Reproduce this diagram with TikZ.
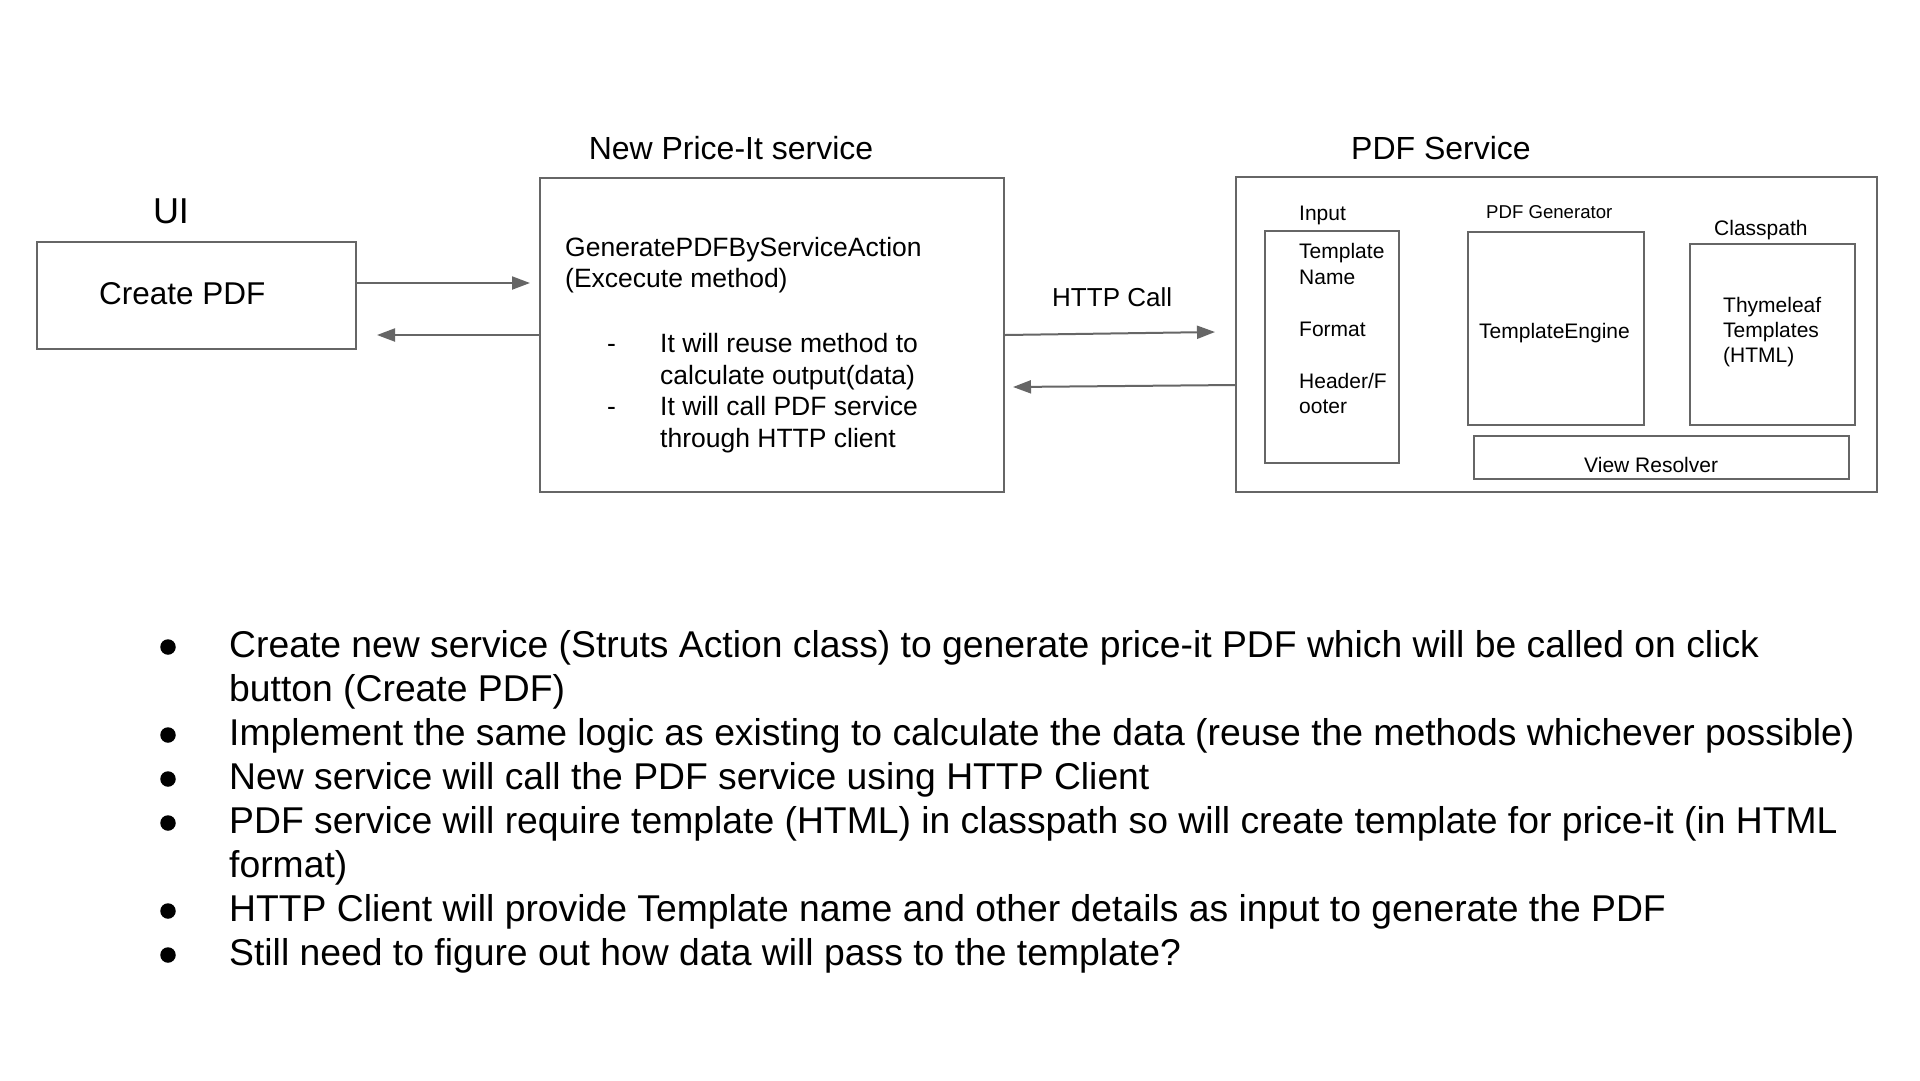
\documentclass[tikz,border=0pt]{standalone}
\usepackage{fontspec}
\setmainfont{Liberation Sans}
\usetikzlibrary{arrows.meta}
\definecolor{edge}{HTML}{666666}
\newcommand\myfs[1]{\fontsize{#1}{#1}\selectfont}
\begin{document}
\begin{tikzpicture}[x=1pt,y=-1pt,
  box/.style={draw=edge,line width=2,inner sep=0,fill=white},
  txt/.style={inner sep=0,anchor=base west,text=black},
  ctxt/.style={inner sep=0,anchor=base,text=black},
  arr/.style={draw=edge,line width=2,-{Triangle[length=18pt,width=13pt]}},
  dot/.style={circle,fill=black,inner sep=0,minimum size=15.5}]
\fill[white] (0,0) rectangle (1920,1080);
\useasboundingbox (0,0) rectangle (1920,1080);

% ---------- UI ----------
\node[ctxt,font=\myfs{36}] (ui) at (171,223) {UI};
\node[box,minimum width=319,minimum height=107] (cp) at (196.5,295.5) {};
\node[txt,font=\myfs{31.5}] (cpt) at (99,304) {Create PDF};

% ---------- Price-It service ----------
\node[ctxt,font=\myfs{32}] (pit) at (731,159) {New Price-It service};
\node[box,minimum width=464,minimum height=314] (pi) at (772,335) {};
\node[txt,font=\myfs{26.5}] (g1) at (565,256) {GeneratePDFByServiceAction};
\node[txt,font=\myfs{26.5}] (g2) at (565,287) {(Excecute method)};
\node[txt,font=\myfs{26.5}] (d1) at (607,352) {-};
\node[txt,font=\myfs{26.5}] (l1) at (660,352) {It will reuse method to};
\node[txt,font=\myfs{26.5}] (l2) at (660,384) {calculate output(data)};
\node[txt,font=\myfs{26.5}] (d2) at (607,415) {-};
\node[txt,font=\myfs{26.5}] (l3) at (660,415) {It will call PDF service};
\node[txt,font=\myfs{26.5}] (l4) at (660,447) {through HTTP client};

% ---------- PDF service ----------
\node[ctxt,font=\myfs{32}] (pst) at (1441,159) {PDF Service};
\node[box,minimum width=641,minimum height=315] (pdf) at (1556.5,334.5) {};

\node[txt,font=\myfs{21}] (inl) at (1299,220) {Input};
\node[box,minimum width=134,minimum height=232] (inb) at (1332,347) {};
\node[txt,font=\myfs{21}] (i1) at (1299,258) {Template};
\node[txt,font=\myfs{21}] (i2) at (1299,284) {Name};
\node[txt,font=\myfs{21}] (i3) at (1299,336) {Format};
\node[txt,font=\myfs{21}] (i4) at (1299,388) {Header/F};
\node[txt,font=\myfs{21}] (i5) at (1299,413) {ooter};

\node[txt,font=\myfs{18.6}] (pgl) at (1486,218) {PDF Generator};
\node[box,minimum width=176,minimum height=193] (pgb) at (1556,328.5) {};
\node[txt,font=\myfs{21}] (te) at (1479,338) {TemplateEngine};

\node[txt,font=\myfs{21}] (cpl) at (1714,235) {Classpath};
\node[box,minimum width=165,minimum height=181] (cpb) at (1772.5,334.5) {};
\node[txt,font=\myfs{21}] (th1) at (1723,312) {Thymeleaf};
\node[txt,font=\myfs{21}] (th2) at (1723,337) {Templates};
\node[txt,font=\myfs{21}] (th3) at (1723,362) {(HTML)};

\node[box,minimum width=375,minimum height=43] (vr) at (1661.5,457.5) {};
\node[txt,font=\myfs{21}] (vrt) at (1584,472) {View Resolver};

% ---------- connectors ----------
\coordinate (t1) at (530,283);
\coordinate (t2) at (377,335);
\coordinate (t3) at (1215,332);
\coordinate (t4) at (1013,387);
\draw[arr] (cp.east |- t1) -- (t1);
\draw[arr] (pi.west |- t2) -- (t2);
\draw[arr] (pi.east) -- (t3);
\draw[arr] ([yshift=2pt]pdf.west |- t4) -- (t4);
\node[txt,font=\myfs{26}] (http) at (1052,306) {HTTP Call};

% ---------- bullet list ----------
\begin{scope}[every node/.append style={font=\myfs{37.3}}]
\node[dot] (b1) at (168,647) {};
\node[txt] (r1) at (229,657) {Create new service (Struts Action class) to generate price-it PDF which will be called on click};
\node[txt] (r2) at (229,701) {button (Create PDF)};
\node[dot] (b2) at (168,735) {};
\node[txt] (r3) at (229,745) {Implement the same logic as existing to calculate the data (reuse the methods whichever possible)};
\node[dot] (b3) at (168,779) {};
\node[txt] (r4) at (229,789) {New service will call the PDF service using HTTP Client};
\node[dot] (b4) at (168,823) {};
\node[txt] (r5) at (229,833) {PDF service will require template (HTML) in classpath so will create template for price-it (in HTML};
\node[txt] (r6) at (229,877) {format)};
\node[dot] (b5) at (168,911) {};
\node[txt] (r7) at (229,921) {HTTP Client will provide Template name and other details as input to generate the PDF};
\node[dot] (b6) at (168,955) {};
\node[txt] (r8) at (229,965) {Still need to figure out how data will pass to the template?};
\end{scope}
\end{tikzpicture}
\end{document}
